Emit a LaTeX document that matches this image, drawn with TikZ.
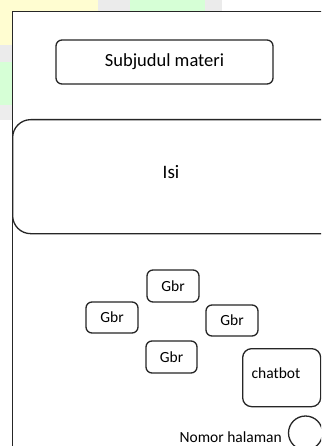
\documentclass[tikz,border=0pt]{standalone}
\usepackage{fontspec}
\setmainfont{Carlito}
\begin{document}
\begin{tikzpicture}[x=1pt,y=-1pt,
  box/.style={draw=black!85,line width=1.3pt,rounded corners=6pt,fill=white,inner sep=0pt,font=\fontsize{15.5}{18}\selectfont},
  lbl/.style={inner sep=0pt,font=\fontsize{15.5}{18}\selectfont}]
\useasboundingbox (0,0) rectangle (321,446);
\clip (0,0) rectangle (321,446);
% faint background watermark
\fill[yellow!18] (0,0) rectangle (98,45);
\fill[black!8] (98,0) rectangle (130,11);
\fill[green!16] (130,0) rectangle (205,11);
\fill[black!8] (205,0) rectangle (222,11);
\fill[black!8] (0,45) rectangle (12,62);
\fill[green!16] (0,62) rectangle (12,105);
\fill[black!7] (0,105) rectangle (12,120);
% page frame
\node[draw=black!85,line width=1.3pt,fill=white,minimum width=330pt,minimum height=450pt,anchor=north west,inner sep=0pt] (frame) at (12,11) {};
\node[box,minimum width=217pt,minimum height=44pt,font=\fontsize{18.5}{22}\selectfont] (sub) at (164.5,62) {Subjudul materi};
\node[box,rounded corners=18pt,minimum width=330pt,minimum height=114pt,anchor=north west] (isibox) at (12,119) {};
\node[lbl,font=\fontsize{19}{22}\selectfont] (isi) at (171,172) {Isi};
\node[box,minimum width=52pt,minimum height=32pt] (g1) at (173,286) {Gbr};
\node[box,minimum width=52pt,minimum height=31pt] (g2) at (112,317.5) {Gbr};
\node[box,minimum width=52pt,minimum height=31pt] (g3) at (232,320.5) {Gbr};
\node[box,minimum width=51pt,minimum height=32pt] (g4) at (171.5,357) {Gbr};
\node[draw=black!85,line width=1.3pt,rounded corners=9pt,fill=white,minimum width=78pt,minimum height=58pt,anchor=north west] (chat) at (242,348) {};
\node[lbl] (chatlbl) at (276,373) {chatbot};
\node[draw=black!85,line width=1.3pt,circle,minimum size=34pt,inner sep=0pt] (num) at (305.5,433) {};
\node[lbl,anchor=east] (nomor) at (282,437) {Nomor halaman};
\end{tikzpicture}
\end{document}
